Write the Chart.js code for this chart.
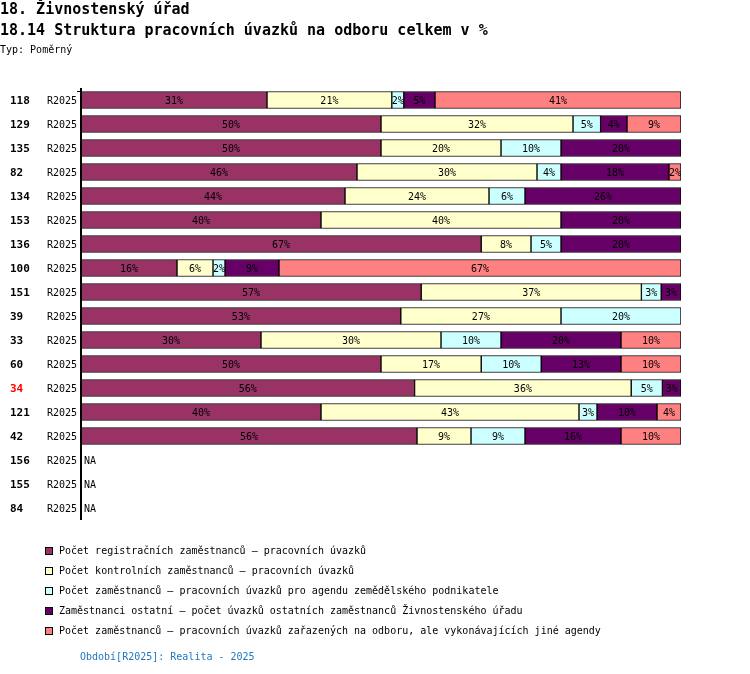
<!DOCTYPE html>
<html>
<head>
<meta charset="utf-8">
<script src="https://cdn.jsdelivr.net/npm/chart.js@4/dist/chart.umd.min.js"></script>
<style>
  html, body { margin: 0; padding: 0; background: #fff; }
  canvas { display: block; }
</style>
</head>
<body>
<canvas id="chart" width="750" height="674"></canvas>
<script>
// Data (share of each category in %, per office)
const offices = ["118", "129", "135", "82", "134", "153", "136", "100", "151", "39", "33", "60", "34", "121", "42", "156", "155", "84"]
const period = "R2025"
const highlighted = "34"

const registracni = [31, 50, 50, 46, 44, 40, 66.7, 16, 56.7, 53.3, 30, 50, 55.6, 40, 56, null, null, null]
const kontrolni   = [20.8, 32, 20, 30, 24, 40, 8.3, 6, 36.7, 26.7, 30, 16.7, 36.1, 43, 9, null, null, null]
const zemedelske  = [2, 4.6, 10, 4, 6, 0, 5, 2, 3.3, 20, 10, 10, 5.2, 3, 9, null, null, null]
const ostatni     = [5.2, 4.4, 20, 18, 26, 20, 20, 9, 3.3, 0, 20, 13.3, 3.1, 10, 16, null, null, null]
const jine        = [41, 9, 0, 2, 0, 0, 0, 67, 0, 0, 10, 10, 0, 4, 10, null, null, null]

const seriesLabels = [
  "Počet registračních zaměstnanců – pracovních úvazků",
  "Počet kontrolních zaměstnanců – pracovních úvazků",
  "Počet zaměstnanců – pracovních úvazků pro agendu zemědělského podnikatele",
  "Zaměstnanci ostatní – počet úvazků ostatních zaměstnanců Živnostenského úřadu",
  "Počet zaměstnanců – pracovních úvazků zařazených na odboru, ale vykonávajících jiné agendy"
]
const seriesColors = ["#993366", "#FFFFCC", "#CCFFFF", "#660066", "#FF8080"]

const mono = "'DejaVu Sans Mono', monospace"

// Titles, row labels, axis line, legend and footer drawn around the chart area
const framePlugin = {
  id: "frame",
  afterDraw: (chart) => {
    const { ctx, chartArea, scales } = chart
    ctx.save()
    ctx.fillStyle = "#000"
    ctx.textBaseline = "middle"
    ctx.textAlign = "left"

    ctx.font = `bold 15px ${mono}`
    ctx.fillText("18. Živnostenský úřad", 0, 10)
    ctx.fillText("18.14 Struktura pracovních úvazků na odboru celkem v %", 0, 31)
    ctx.font = `10px ${mono}`
    ctx.fillText("Typ: Poměrný", 0, 50)

    offices.forEach((office, i) => {
      const y = scales.y.getPixelForValue(i)
      ctx.font = `bold 11px ${mono}`
      ctx.fillStyle = office === highlighted ? "#ff0000" : "#000"
      ctx.fillText(office, 10, y + 1)
      ctx.font = `10px ${mono}`
      ctx.fillStyle = "#000"
      ctx.fillText(period, 47, y + 1)
      if (registracni[i] === null) ctx.fillText("NA", 84, y + 1)
    })

    // vertical axis
    ctx.strokeStyle = "#000"
    ctx.lineWidth = 2
    ctx.beginPath()
    ctx.moveTo(chartArea.left, chartArea.top)
    ctx.lineTo(chartArea.left, chartArea.bottom)
    ctx.stroke()
    ctx.lineWidth = 1
    ctx.beginPath()
    ctx.moveTo(77, chartArea.top + 3.5)
    ctx.lineTo(chartArea.left, chartArea.top + 3.5)
    ctx.stroke()

    // legend
    ctx.font = `10px ${mono}`
    seriesLabels.forEach((label, i) => {
      const y = 551 + i * 20
      ctx.fillStyle = seriesColors[i]
      ctx.fillRect(45.5, y - 3.5, 7, 7)
      ctx.strokeStyle = "#000"
      ctx.strokeRect(45.5, y - 3.5, 7, 7)
      ctx.fillStyle = "#000"
      ctx.fillText(label, 59, y)
    })

    ctx.fillStyle = "#1f77c0"
    ctx.fillText("Období[R2025]: Realita - 2025", 80, 657)
    ctx.restore()
  }
}

// Rounded percentage written in the middle of every non-empty segment
const segmentLabelsPlugin = {
  id: "segmentLabels",
  afterDatasetsDraw: (chart) => {
    const { ctx } = chart
    ctx.save()
    ctx.font = `10px ${mono}`
    ctx.textAlign = "center"
    ctx.textBaseline = "middle"
    chart.data.datasets.forEach((ds, d) => {
      chart.getDatasetMeta(d).data.forEach((bar, i) => {
        const value = ds.data[i]
        if (!value) return
        ctx.fillStyle = "#000"
        ctx.fillText(`${Math.round(value)}%`, (bar.x + bar.base) / 2, bar.y + 1)
      })
    })
    ctx.restore()
  }
}

const seriesData = [registracni, kontrolni, zemedelske, ostatni, jine]

new Chart(document.getElementById("chart"), {
  type: "bar",
  data: {
    labels: offices,
    datasets: seriesData.map((data, i) => ({
      label: seriesLabels[i],
      data: data,
      backgroundColor: seriesColors[i],
      borderColor: "#000",
      borderWidth: 1,
      borderSkipped: false,
      barThickness: 17
    }))
  },
  options: {
    indexAxis: "y",
    responsive: false,
    animation: false,
    devicePixelRatio: 1,
    layout: { padding: { left: 81, right: 69, top: 88, bottom: 154 } },
    scales: {
      x: { stacked: true, min: 0, max: 100, display: false },
      y: { stacked: true, display: false }
    },
    plugins: {
      legend: { display: false },
      tooltip: { enabled: false }
    }
  },
  plugins: [segmentLabelsPlugin, framePlugin]
})
</script>
</body>
</html>
